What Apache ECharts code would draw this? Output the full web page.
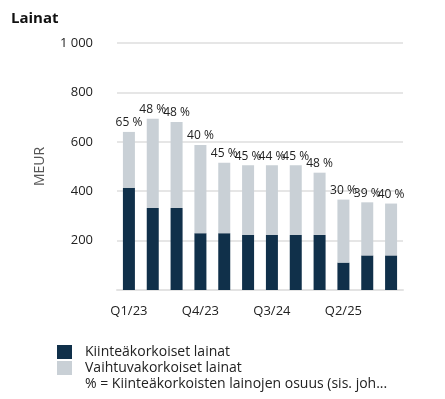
<!DOCTYPE html>
<html>
<head>
<meta charset="utf-8">
<script src="https://cdn.jsdelivr.net/npm/echarts@6/dist/echarts.min.js"></script>
<style>html,body{margin:0;padding:0;background:#fff}#c{width:445px;height:399px}</style>
</head>
<body>
<div id="c"></div>
<script>
var categories = ['Q1/23','Q2/23','Q3/23','Q4/23','Q1/24','Q2/24','Q3/24','Q4/24','Q1/25','Q2/25','Q3/25','Q4/25'];
var fixedLoans = [414, 332, 332, 230, 230, 223, 223, 223, 223, 111, 140, 140];
var variableLoans = [226, 361, 348, 357, 285, 282, 282, 282, 252, 255, 215, 210];
var fixedShare = ['65 %','48 %','48 %','40 %','45 %','45 %','44 %','45 %','48 %','30 %','39 %','40 %'];
var yTicks = [0, 200, 400, 600, 800, 1000];

var font = '"Open Sans", "Noto Sans", sans-serif';
var chart = echarts.init(document.getElementById('c'), null, {renderer: 'canvas'});
chart.setOption({
  animation: false,
  textStyle: {fontFamily: font},
  title: {
    text: 'Lainat', left: 6, top: 6,
    textStyle: {fontSize: 15, fontWeight: 'bold', color: '#111', fontFamily: font}
  },
  legend: {
    orient: 'vertical', left: 52, top: 340,
    itemWidth: 15, itemHeight: 14, itemGap: 2,
    textStyle: {fontSize: 14, lineHeight: 14, color: '#222', fontFamily: font, padding: [0, 0, 0, 8]},
    data: [
      {name: 'Kiinteäkorkoiset lainat', icon: 'rect'},
      {name: 'Vaihtuvakorkoiset lainat', icon: 'rect'},
      {name: '% = Kiinteäkorkoisten lainojen osuus (sis. joh...', icon: 'none'}
    ],
    selectedMode: false
  },
  grid: {left: 117, right: 42, top: 43, bottom: 109, containLabel: false},
  xAxis: {
    type: 'category',
    data: categories,
    axisTick: {show: false},
    axisLine: {lineStyle: {color: '#e3e3e3', width: 2}},
    axisLabel: {interval: 2, fontSize: 13, color: '#222', margin: 15, fontFamily: font}
  },
  yAxis: {
    type: 'value',
    min: yTicks[0], max: yTicks[yTicks.length - 1], interval: 200,
    name: 'MEUR', nameLocation: 'middle', nameRotate: 90, nameGap: 70,
    nameTextStyle: {fontSize: 14, color: '#555', fontFamily: font},
    axisLabel: {
      fontSize: 13, color: '#222', margin: 24, fontFamily: font,
      formatter: function (v) { return v === 0 ? '' : String(v).replace(/\B(?=(\d{3})+(?!\d))/g, ' '); }
    },
    splitLine: {lineStyle: {color: '#e6e6e6', width: 2}}
  },
  series: [
    {
      name: 'Kiinteäkorkoiset lainat', type: 'bar', stack: 'a',
      data: fixedLoans, barWidth: 12,
      itemStyle: {color: '#10304a'}
    },
    {
      name: 'Vaihtuvakorkoiset lainat', type: 'bar', stack: 'a',
      data: variableLoans, barWidth: 12,
      itemStyle: {color: '#c9d0d6'},
      label: {
        show: true, position: 'top', distance: 3,
        fontSize: 12, color: '#222', fontFamily: font,
        formatter: function (p) { return fixedShare[p.dataIndex]; }
      }
    },
    {
      name: '% = Kiinteäkorkoisten lainojen osuus (sis. joh...', type: 'line', data: []
    }
  ]
});
</script>
</body>
</html>
